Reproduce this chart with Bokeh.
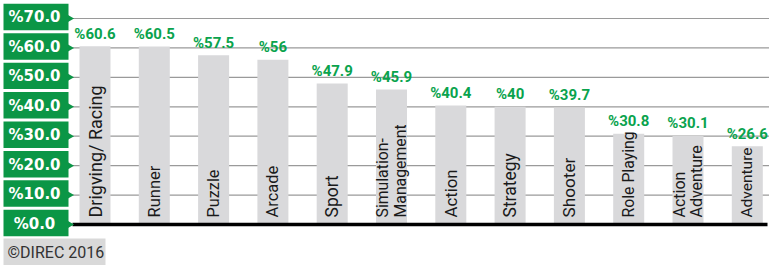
import math
from bokeh.plotting import figure
from bokeh.models import Range1d, ColumnDataSource
from bokeh.core.properties import value
from bokeh.embed import file_html
from bokeh.resources import INLINE

# ---- data ----
categories = ["Drigving/ Racing", "Runner", "Puzzle", "Arcade", "Sport",
              "Simulation-\nManagement", "Action", "Strategy", "Shooter",
              "Role Playing", "Action\nAdventure", "Adventure"]
shares = [60.6, 60.5, 57.5, 56, 47.9, 45.9, 40.4, 40, 39.7, 30.8, 30.1, 26.6]
tick_values = [0, 10, 20, 30, 40, 50, 60, 70]
tick_labels = ["%0.0", "%10.0", "%20.0", "%30.0", "%40.0", "%50.0", "%60.0", "%70.0"]
credit = "©DIREC 2016"

# ---- styles ----
cat_font_px = [18, 16.5, 16.3, 16.5, 17.5, 15.8, 16.8, 17.5, 17.2, 15.8, 16, 15.5]

# ---- layout (picture pixels -> data units) ----
SLOT = 59.3        # px per category slot
X0 = 94.5          # px of first bar centre
YPX = 2.943        # px per percent
Y0 = 224           # px of zero line
FIG_L, FIG_T, W, H = 0, 0, 769, 265

def xd(px):
    return (px - X0) / SLOT

def yd(py):
    return (Y0 - py) / YPX

x_start, x_end = xd(FIG_L), xd(FIG_L + W)
y_start, y_end = yd(FIG_T + H), yd(FIG_T)

GREEN_BOX = "#0b9646"
GREEN_TXT = "#0aa34d"
BAR = "#d9d9db"

p = figure(width=W, height=H, output_backend="svg", toolbar_location=None,
           x_range=Range1d(x_start, x_end), y_range=Range1d(y_start, y_end),
           min_border=0, outline_line_color=None, tools="")
p.xaxis.visible = False
p.yaxis.visible = False
p.xgrid.visible = False
p.ygrid.visible = False
p.background_fill_color = "white"
p.border_fill_color = "white"

idx = list(range(len(categories)))
src = ColumnDataSource(dict(
    x=idx, top=shares, cat=categories,
    lab=[f"%{v:g}" for v in shares],
    laby=[v + 1.2 for v in shares],
    fs=[f"{s}px" for s in cat_font_px],
))

# gridlines
grid_vals = [t for t in tick_values if t > 0]
p.segment(x0=[xd(72)] * len(grid_vals), x1=[x_end] * len(grid_vals),
          y0=grid_vals, y1=grid_vals, line_color="#9a9a9a", line_width=1.2)

# bars
p.vbar(x="x", top="top", bottom=0, width=0.523, source=src,
       fill_color=BAR, line_color=None)

# baseline
p.segment(x0=[xd(72)], x1=[xd(767)], y0=[0], y1=[0], line_color="black", line_width=3.5)

# value labels
p.text(x="x", y="laby", text="lab", source=src, text_align="center",
       text_baseline="bottom", text_color=GREEN_TXT, text_font=value("Roboto"),
       text_font_style="bold", text_font_size="15px")

# category labels (rotated)
p.text(x="x", y=yd(217), text="cat", source=src, angle=math.pi / 2,
       text_align="left", text_baseline="middle", text_color="#1a1a1a",
       text_font=value("Roboto"), text_font_size="fs", text_line_height=0.92)

# tick label boxes
tsrc = ColumnDataSource(dict(
    y=tick_values, lab=tick_labels,
    bot=[t + 0.5 - 4.5 for t in tick_values],
    top=[t + 0.5 + 4.5 for t in tick_values],
))
p.quad(left=xd(3), right=xd(68), bottom="bot", top="top", source=tsrc,
       fill_color=GREEN_BOX, line_color=None)
p.scatter(x=xd(69.5), y="y", source=tsrc, marker="triangle", angle=-math.pi / 2,
          size=7, fill_color=GREEN_BOX, line_color=None)
p.text(x=xd(34), y="y", text="lab", source=tsrc, text_align="center",
       text_baseline="middle", text_color="white", text_font=value("DejaVu Sans"),
       text_font_style="bold", text_font_size="15px", y_offset=-1)

# credit box
p.quad(left=[xd(3)], right=[xd(105)], bottom=[yd(265)], top=[yd(238)],
       fill_color="#d9d9d9", line_color=None)
p.text(x=[xd(7)], y=[yd(252)], text=[credit], text_align="left",
       text_baseline="middle", text_color="#333333", text_font=value("Roboto"),
       text_font_size="16px")

open("out.html", "w").write(file_html(p, INLINE))
